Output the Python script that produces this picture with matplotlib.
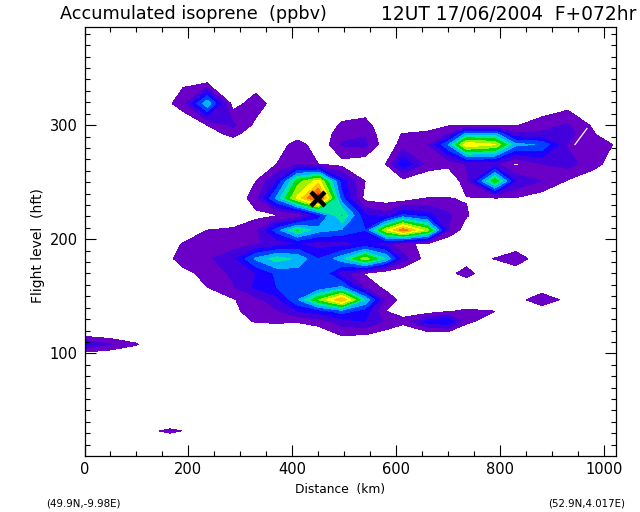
import matplotlib
matplotlib.use("Agg")
import matplotlib.pyplot as plt
import numpy as np

title_left = "Accumulated isoprene  (ppbv)"
title_right = "12UT 17/06/2004  F+072hr"
corner_left = "(49.9N,-9.98E)"
corner_right = "(52.9N,4.017E)"

distance = [0, 50, 100, 140, 165, 190, 236, 286, 330, 370, 410, 450, 495,
            540, 580, 613, 660, 700, 735, 790, 830, 880, 930, 980, 1022]
flight_level = [10, 27, 32, 37, 98, 108, 118, 128, 137, 147, 158, 170, 183,
                196, 208, 221, 236, 251, 266, 283, 292, 300, 319, 340, 386]

isoprene = [
    [0]*25,
    [0]*25,
    [0, 0, 0, .9, 1.6, .9] + [0]*19,
    [0]*25,
    [0]*25,
    [3.2, 2, 1.1] + [0]*22,
    [0]*11 + [.3, 1.3, 1.2, .7, .5, .7, .7] + [0]*7,
    [0]*7 + [.5, 1.1, 1.2, 1.1, 1.5, 2.5, 3, 1.8, 1.2, 3.4, 3.9, 1.3, .3] + [0]*5,
    [0]*7 + [.8, 1.4, 1.9, 3, 3.5, 4.5, 3.5, 1, .7, .3, .9, 1.2, 1] + [0]*5,
    [0]*6 + [.4, .9, 1.7, 2.6, 4.9, 8, 11, 6, 1.7, .6, 0, 0, 0, 0, .3, 2.05, .5, 0, 0],
    [0]*6 + [1, 1.9, 3.2, 4, 4.2, 4.1, 5.2, 1.8, .7] + [0]*10,
    [0]*5 + [.6, 1.4, 2.2, 3, 4.2, 4.5, 5, 2.5, .9, 0, 0, 0, .7, 1.4] + [0]*6,
    [0]*4 + [.8, 1.6, 1.8, 2.7, 5.2, 6.5, 5.8, 4, 5.6, 8.6, 6, 2.5, .4, 0, .5, 1.05, 1.9, 0, 0, 0, 0],
    [0]*4 + [.5, 1.1, 1.6, 1.5, 1.9, 2.3, 3, 2.5, 2.6, 3, 2.5, 1.1, .9] + [0]*8,
    [0]*6 + [1, 1.2, 1.8, 4.5, 7.1, 5.4, 4.9, 4, 8.8, 11.6, 8.5, 2, .4] + [0]*6,
    [0]*8 + [.7, .9, 1, 3.5, 7.1, 3.2, 2.4, 4.2, 3.4, 2.2, 1.1] + [0]*6,
    [0]*8 + [1.64, 5.3, 9.3, 12.9, 4.4, .6, .4, .3, 1.05, 1.02, .95, .95, .95, .4, 0, 0, 0],
    [0]*8 + [1, 3, 7.5, 9.5, 3.5, 1, 0, .6, 0, 0, 1.6, 7.8, 2.9, 2, .9, .2, 0],
    [0]*9 + [1, 1.9, 1, .6, .2, 1.02, 3.8, 1.7, 1.3, 2.1, 2.2, .75, 2, 2.4, 1.4, .4],
    [0]*10 + [1.8, 0, 2.1, 2.3, .3, 1.4, 1.9, 5, 9.9, 9.1, 5.3, 4.9, 1.9, 1.6, .9],
    [0]*6 + [.3, 1.4, 0, 0, 0, 0, 1.7, 1.9, .2, 1.1, 1.2, 2, 5.5, 5.5, 2.2, 2.2, 2.4, 1.1, 0],
    [0]*6 + [1, 2.2, .7, 0, 0, 0, 1.2, 1.5, 0, 0, .6, .9, .9, .9, .9, 1.6, 2.1, .8, 0],
    [0]*4 + [.9, 1.6, 5.8, .5, 1.6, .4] + [0]*12 + [.5, 0, 0],
    [0]*5 + [.7, .2, 0, .2] + [0]*16,
    [0]*25,
]

bands = [1, 2, 3, 4, 5, 6, 7, 8, 9, 10, 11, 12, 13]
band_colours = ["#6a00c8", "#4400dc", "#1a00ff", "#0040ff", "#00b4ff", "#00e8a0",
                "#00dc00", "#a0f000", "#ffff00", "#ffc000", "#ff7000", "#ff3000"]

cross_km = [450]
cross_fl = [235]
crack_km = [944, 967]
crack_fl = [283, 297]

fig = plt.figure(figsize=(6.4, 5.12), dpi=100)
ax = fig.add_axes([84.5/640, 1-455.5/512, 531/640, 428.5/512])

ax.contourf(distance, flight_level, np.array(isoprene), levels=bands,
            colors=band_colours, antialiased=False)
ax.plot(crack_km, crack_fl, color="white", lw=0.9)
ax.plot(cross_km, cross_fl, marker="x", ms=10, mew=3.2, color="black", ls="none")

ax.set_xlim(0, 1022)
ax.set_ylim(10.5, 386)
ax.set_xticks(np.arange(0, 1001, 200))
ax.set_xticks(np.arange(0, 1001, 50), minor=True)
ax.set_yticks([100, 200, 300])
ax.set_yticks(np.arange(20, 381, 10), minor=True)
ax.tick_params(which="both", direction="in", top=True, right=True, width=0.8, labelsize=10.5)
ax.tick_params(which="major", length=7.8, pad=5)
ax.tick_params(which="minor", length=3.8)
for side in ax.spines.values():
    side.set_linewidth(0.9)

fig.text(193.5/640, 1-14/512, title_left, ha="center", va="center", fontsize=12.7)
fig.text(508.5/640, 1-14/512, title_right, ha="center", va="center", fontsize=13.4)
fig.text(340/640, 1-490/512, "Distance  (km)", ha="center", va="center", fontsize=8.8)
fig.text(38/640, 1-246/512, "Flight level  (hft)", ha="center", va="center",
         rotation=90, fontsize=10)
fig.text(46/640, 1-503/512, corner_left, ha="left", va="center", fontsize=7.4)
fig.text(625/640, 1-503/512, corner_right, ha="right", va="center", fontsize=7.4)

fig.savefig("out.png", dpi=100)
